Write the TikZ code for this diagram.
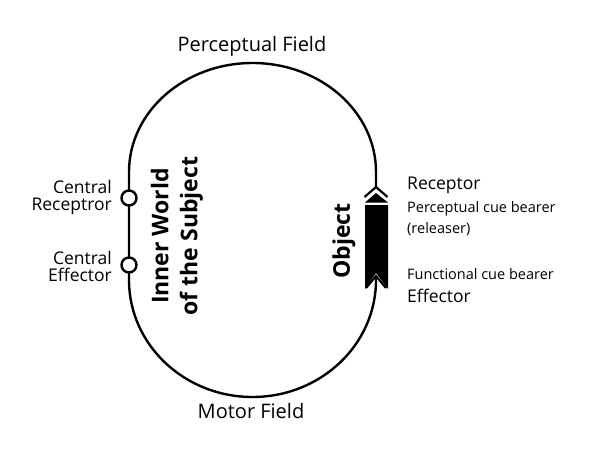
\documentclass[tikz,border=0pt]{standalone}
\usepackage{fontspec}
\setmainfont{Open Sans}
\begin{document}
\begin{tikzpicture}[x=1pt,y=1pt,
  loopline/.style={line width=2.4pt,black},
  lbl/.style={inner sep=0pt,font=\fontsize{20}{24}\selectfont},
  sidelbl/.style={inner sep=0pt,font=\fontsize{17.5}{17}\selectfont},
  smalllbl/.style={inner sep=0pt,font=\fontsize{14.5}{21}\selectfont},
  boldlbl/.style={inner sep=0pt,font=\bfseries\fontsize{23}{29}\selectfont},
  centre/.style={circle,draw=black,line width=2.4pt,fill=white,minimum size=15pt,inner sep=0pt}]
\useasboundingbox (0,0) rectangle (596,453);
% loop
\coordinate (lt) at (129,281);
\coordinate (lb) at (129,173);
\coordinate (rt) at (376,281);
\coordinate (rb) at (376,173);
\coordinate (chevtop) at (376,266);
\coordinate (chevbot) at (376,177);
\draw[loopline] (lb) -- (lt) arc[start angle=180,end angle=0,x radius=123.5,y radius=109] -- (chevtop);
\draw[loopline] (lb) arc[start angle=180,end angle=360,x radius=123.5,y radius=117] -- (chevbot);
% object bar
\fill[black] (365,248) -- (388,248) -- (388,164) -- (376,180) -- (365,164) -- cycle;
\fill[black] (365,250.5) -- (376,260) -- (388,250.5) -- cycle;
\draw[line width=2.2pt,line join=miter] (364.5,256) -- (chevtop) -- (387.5,256);
\draw[line width=2.2pt,line join=miter] (366,165) -- (chevbot) -- (386,165);
% central nodes
\node[centre] (cr) at (129,255) {};
\node[centre] (ce) at (129,188) {};
% texts
\node[lbl] (pf) at (252,407) {Perceptual Field};
\node[lbl] (mf) at (251,42) {Motor Field};
\node[boldlbl,rotate=90,align=center] (iw) at (177,217) {Inner World\\of the Subject};
\node[boldlbl,rotate=90] (ob) at (344,212) {Object};
\node[sidelbl,align=right,anchor=east] (crl) at (112,256) {Central\\Receptror};
\node[sidelbl,align=right,anchor=east] (cel) at (112,187) {Central\\Effector};
\node[sidelbl,anchor=west] (rec) at (407,268) {Receptor};
\node[smalllbl,anchor=west,align=left] (pcb) at (407,234.5) {Perceptual cue bearer\\(releaser)};
\node[smalllbl,anchor=west] (fcb) at (407,179) {Functional cue bearer};
\node[sidelbl,anchor=west] (eff) at (407,157) {Effector};
\end{tikzpicture}
\end{document}
